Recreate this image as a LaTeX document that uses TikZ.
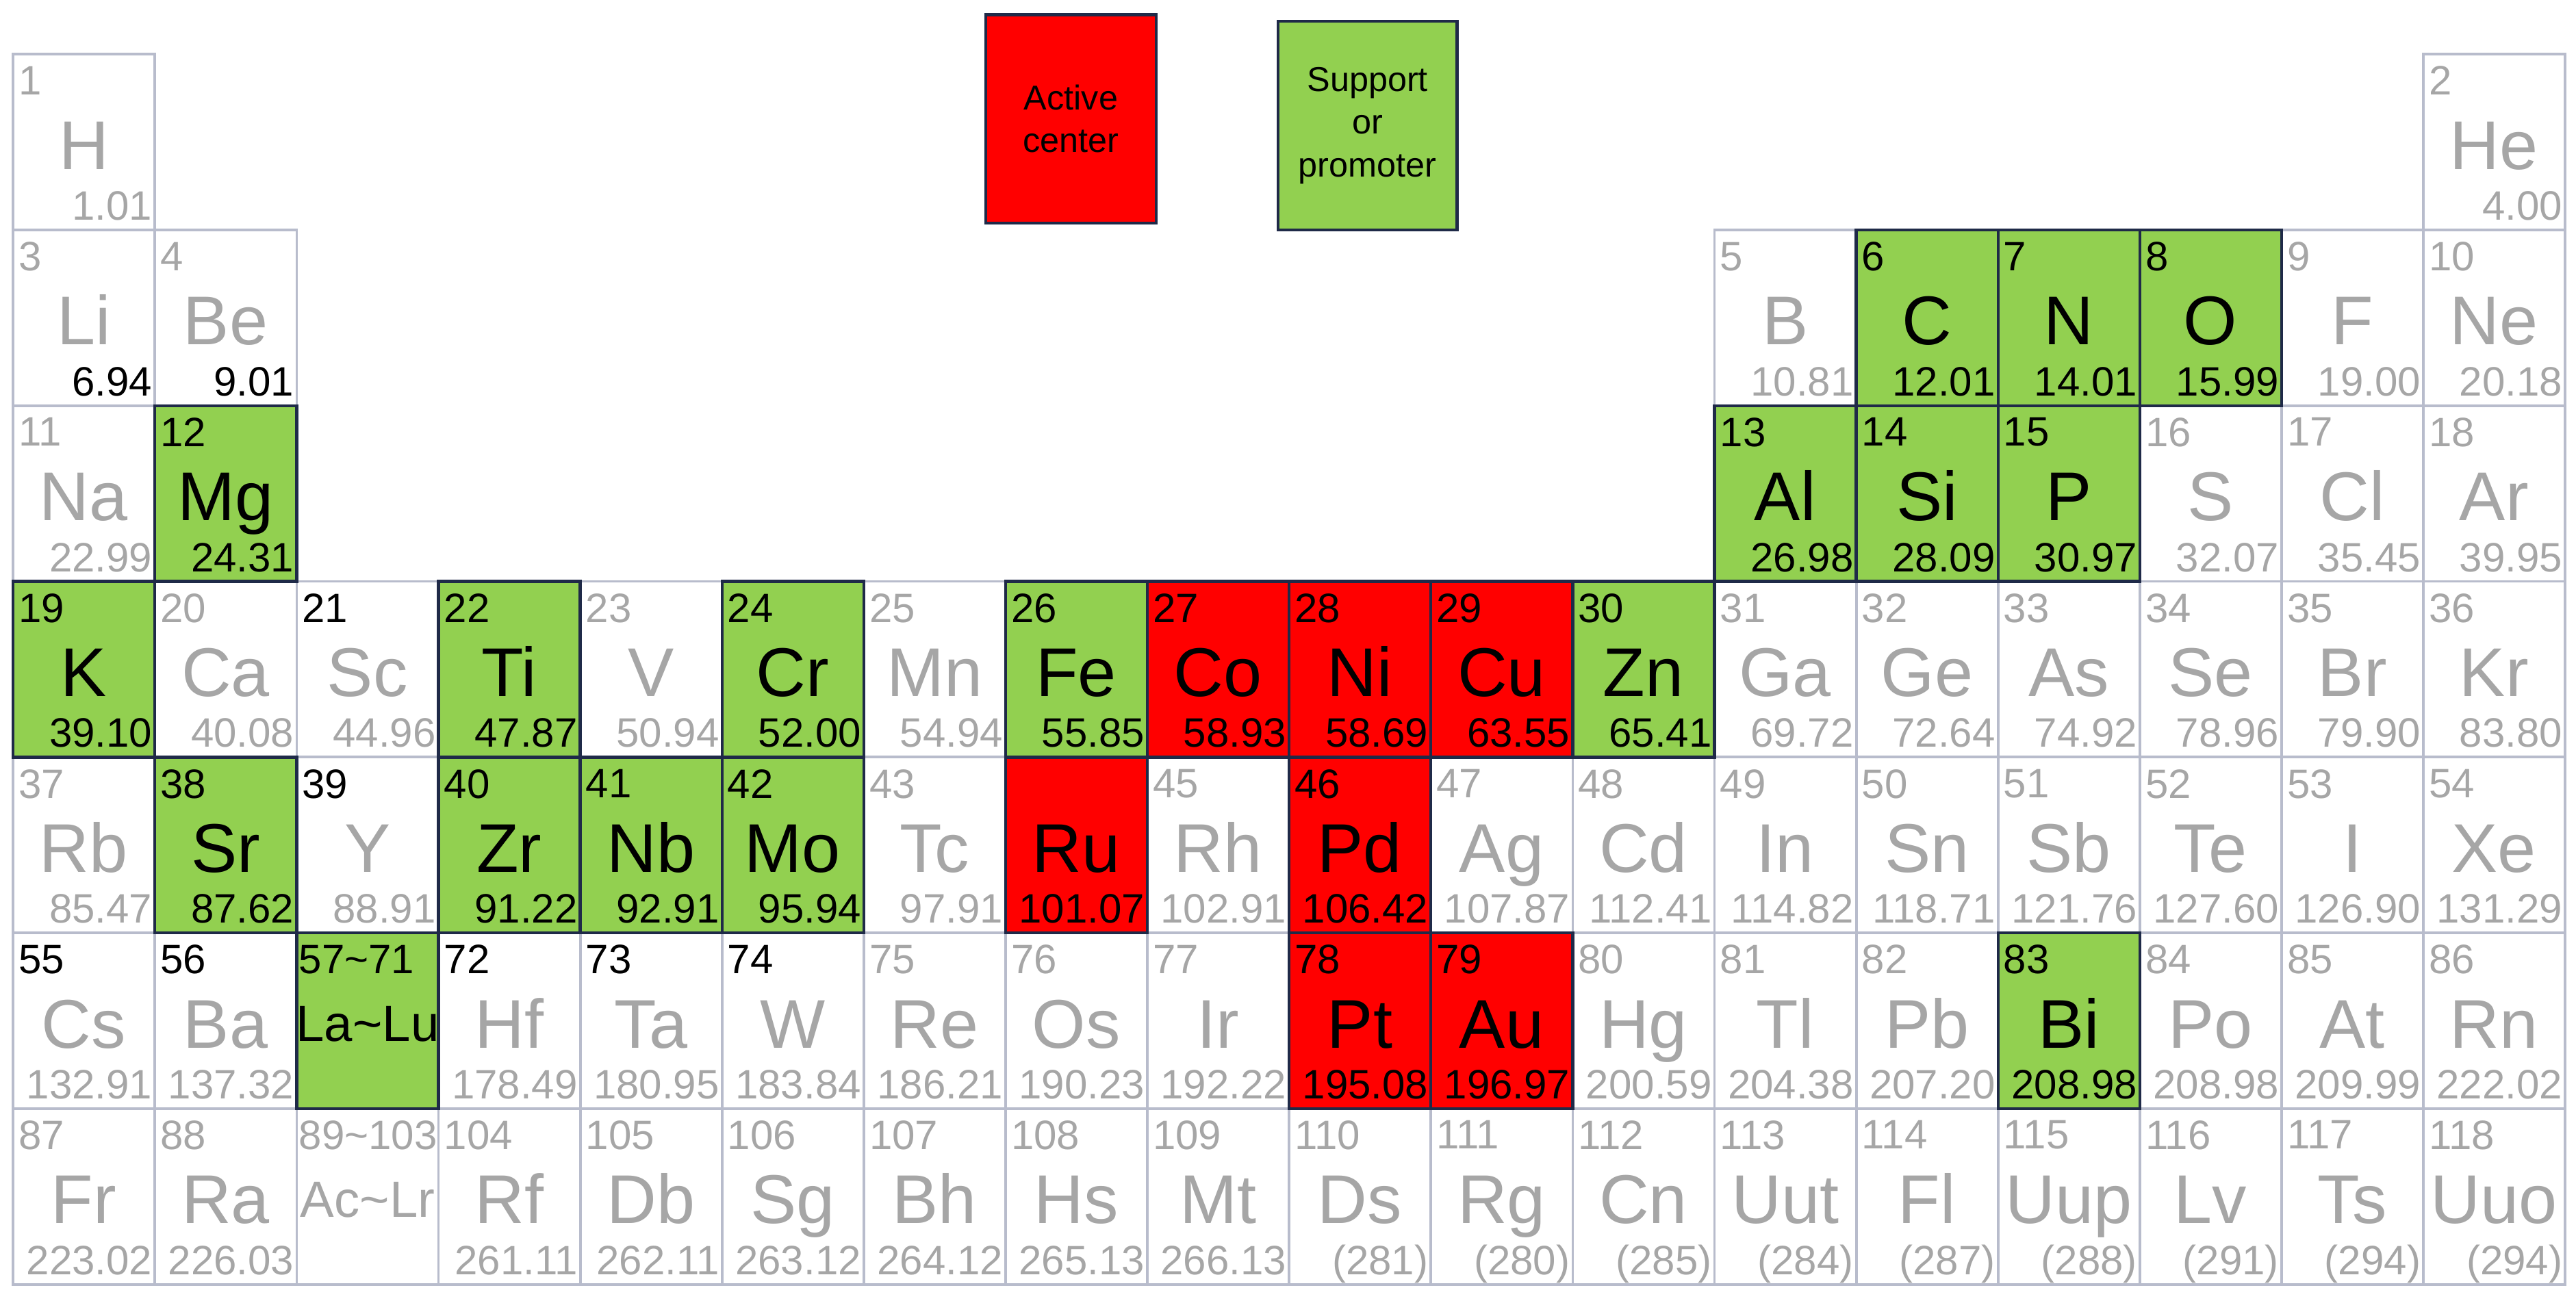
\documentclass[tikz,border=0pt]{standalone}
\usepackage{fontspec}
\setmainfont{Liberation Sans}
\definecolor{gtxt}{HTML}{A6A6A6}
\definecolor{lbord}{HTML}{B8BCCC}
\definecolor{dbord}{HTML}{1F2A48}
\definecolor{grn}{HTML}{92D050}
\definecolor{rd}{HTML}{FF0000}
\tikzset{
  numtxt/.style={anchor=north west,inner sep=0pt,font=\fontsize{12.5}{13}\selectfont},
  symtxt/.style={anchor=base,inner sep=0pt,font=\fontsize{21}{22}\selectfont},
  masstxt/.style={anchor=base east,inner sep=0pt,font=\fontsize{12.5}{13}\selectfont},
  cellbox/.style={draw=lbord,line width=0.8pt},
  hicell/.style={draw=dbord,line width=0.9pt},
}
% #1 col #2 row #3 num #4 sym #5 mass #6 fill #7 numcol #8 symcol #9 masscol
\newcommand{\elem}[9]{%
  \pgfmathsetmacro{\xa}{8+(#1-1)*86.3}%
  \pgfmathsetmacro{\ya}{33+(#2-1)*107}%
  \ifx#6n\relax
    \draw[cellbox] (\xa,\ya) rectangle ++(86.3,107);
  \else
    \draw[hicell,fill=#6] (\xa,\ya) rectangle ++(86.3,107);
  \fi
  \node[numtxt,text=#7] (n#3) at (\xa+3,\ya+7) {#3};
  \node[symtxt,text=#8] (s#3) at (\xa+43,\ya+70) {#4};
  \node[masstxt,text=#9] (m#3) at (\xa+85,\ya+101) {#5};
}
\newcommand{\gE}[5]{\elem{#1}{#2}{#3}{#4}{#5}{n}{gtxt}{gtxt}{gtxt}}
\newcommand{\grE}[5]{\elem{#1}{#2}{#3}{#4}{#5}{grn}{black}{black}{black}}
\newcommand{\rE}[5]{\elem{#1}{#2}{#3}{#4}{#5}{rd}{black}{black}{black}}
\newcommand{\bE}[5]{\elem{#1}{#2}{#3}{#4}{#5}{n}{black}{gtxt}{gtxt}}
\begin{document}
\begin{tikzpicture}[x=0.5pt,y=-0.5pt]
\useasboundingbox (0,0) rectangle (1568,792);
\fill[white] (0,0) rectangle (1568,792);
% row 1
\gE{1}{1}{1}{H}{1.01}
\gE{18}{1}{2}{He}{4.00}
% row 2
\elem{1}{2}{3}{Li}{6.94}{n}{gtxt}{gtxt}{black}
\elem{2}{2}{4}{Be}{9.01}{n}{gtxt}{gtxt}{black}
\gE{13}{2}{5}{B}{10.81}
\gE{17}{2}{9}{F}{19.00}
\gE{18}{2}{10}{Ne}{20.18}
% row 3
\gE{1}{3}{11}{Na}{22.99}
\gE{16}{3}{16}{S}{32.07}
\gE{17}{3}{17}{Cl}{35.45}
\gE{18}{3}{18}{Ar}{39.95}
% row 4
\gE{2}{4}{20}{Ca}{40.08}
\bE{3}{4}{21}{Sc}{44.96}
\gE{5}{4}{23}{V}{50.94}
\gE{7}{4}{25}{Mn}{54.94}
\gE{13}{4}{31}{Ga}{69.72}
\gE{14}{4}{32}{Ge}{72.64}
\gE{15}{4}{33}{As}{74.92}
\gE{16}{4}{34}{Se}{78.96}
\gE{17}{4}{35}{Br}{79.90}
\gE{18}{4}{36}{Kr}{83.80}
% row 5
\gE{1}{5}{37}{Rb}{85.47}
\bE{3}{5}{39}{Y}{88.91}
\gE{7}{5}{43}{Tc}{97.91}
\gE{9}{5}{45}{Rh}{102.91}
\gE{11}{5}{47}{Ag}{107.87}
\gE{12}{5}{48}{Cd}{112.41}
\gE{13}{5}{49}{In}{114.82}
\gE{14}{5}{50}{Sn}{118.71}
\gE{15}{5}{51}{Sb}{121.76}
\gE{16}{5}{52}{Te}{127.60}
\gE{17}{5}{53}{I}{126.90}
\gE{18}{5}{54}{Xe}{131.29}
% row 6
\bE{1}{6}{55}{Cs}{132.91}
\bE{2}{6}{56}{Ba}{137.32}
\bE{4}{6}{72}{Hf}{178.49}
\bE{5}{6}{73}{Ta}{180.95}
\bE{6}{6}{74}{W}{183.84}
\gE{7}{6}{75}{Re}{186.21}
\gE{8}{6}{76}{Os}{190.23}
\gE{9}{6}{77}{Ir}{192.22}
\gE{12}{6}{80}{Hg}{200.59}
\gE{13}{6}{81}{Tl}{204.38}
\gE{14}{6}{82}{Pb}{207.20}
\gE{16}{6}{84}{Po}{208.98}
\gE{17}{6}{85}{At}{209.99}
\gE{18}{6}{86}{Rn}{222.02}
% row 7
\gE{1}{7}{87}{Fr}{223.02}
\gE{2}{7}{88}{Ra}{226.03}
\draw[cellbox] (180.6,675) rectangle ++(86.3,107);
\node[numtxt,text=gtxt] (n89) at (181.6,682) {89\char`\~103};
\node[anchor=base,inner sep=0pt,font=\fontsize{15.5}{16}\selectfont,text=gtxt] (s89) at (223.75,741) {Ac\char`\~Lr};
\gE{4}{7}{104}{Rf}{261.11}
\gE{5}{7}{105}{Db}{262.11}
\gE{6}{7}{106}{Sg}{263.12}
\gE{7}{7}{107}{Bh}{264.12}
\gE{8}{7}{108}{Hs}{265.13}
\gE{9}{7}{109}{Mt}{266.13}
\gE{10}{7}{110}{Ds}{(281)}
\gE{11}{7}{111}{Rg}{(280)}
\gE{12}{7}{112}{Cn}{(285)}
\gE{13}{7}{113}{Uut}{(284)}
\gE{14}{7}{114}{Fl}{(287)}
\gE{15}{7}{115}{Uup}{(288)}
\gE{16}{7}{116}{Lv}{(291)}
\gE{17}{7}{117}{Ts}{(294)}
\gE{18}{7}{118}{Uuo}{(294)}
% highlighted (drawn last)
\grE{14}{2}{6}{C}{12.01}
\grE{15}{2}{7}{N}{14.01}
\grE{16}{2}{8}{O}{15.99}
\grE{2}{3}{12}{Mg}{24.31}
\grE{13}{3}{13}{Al}{26.98}
\grE{14}{3}{14}{Si}{28.09}
\grE{15}{3}{15}{P}{30.97}
\grE{1}{4}{19}{K}{39.10}
\grE{4}{4}{22}{Ti}{47.87}
\grE{6}{4}{24}{Cr}{52.00}
\grE{8}{4}{26}{Fe}{55.85}
\rE{9}{4}{27}{Co}{58.93}
\rE{10}{4}{28}{Ni}{58.69}
\rE{11}{4}{29}{Cu}{63.55}
\grE{12}{4}{30}{Zn}{65.41}
\grE{2}{5}{38}{Sr}{87.62}
\grE{4}{5}{40}{Zr}{91.22}
\grE{5}{5}{41}{Nb}{92.91}
\grE{6}{5}{42}{Mo}{95.94}
\rE{8}{5}{}{Ru}{101.07}
\rE{10}{5}{46}{Pd}{106.42}
\rE{10}{6}{78}{Pt}{195.08}
\rE{11}{6}{79}{Au}{196.97}
\grE{15}{6}{83}{Bi}{208.98}
\draw[hicell,fill=grn] (180.6,568) rectangle ++(86.3,107);
\node[numtxt] (n57) at (181.6,575) {57\char`\~71};
\node[anchor=base,inner sep=0pt,font=\fontsize{15.5}{16}\selectfont] (s57) at (223.75,634) {La\char`\~Lu};
% legend
\node[draw=dbord,line width=0.9pt,fill=rd,minimum width=104*0.5pt,minimum height=127*0.5pt,inner sep=0pt,align=center,font=\fontsize{10.5}{13}\selectfont,anchor=north west] (act) at (599,8) {Active\\center};
\node[draw=dbord,line width=0.9pt,fill=grn,minimum width=109*0.5pt,minimum height=127*0.5pt,inner sep=0pt,align=center,font=\fontsize{10.5}{13}\selectfont,anchor=north west] (sup) at (777,12) {Support\\or\\promoter};
\end{tikzpicture}
\end{document}
